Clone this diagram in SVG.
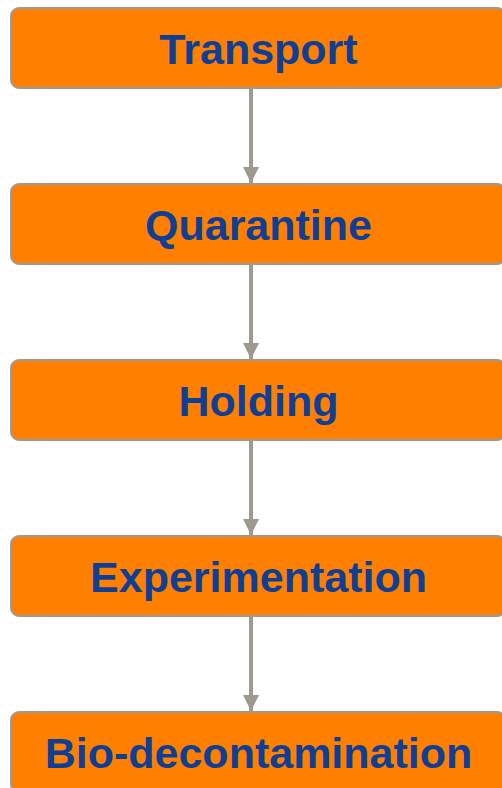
<svg xmlns="http://www.w3.org/2000/svg" width="502" height="788" viewBox="0 0 502 788">
<defs>
<style>
.box{fill:#ff7f00;stroke:#a09a8e;stroke-width:2}
.lbl{font-family:"Liberation Sans",Arial,sans-serif;font-weight:bold;font-size:43px;fill:#0e3f94;text-anchor:middle}
.conn{stroke:#a09a8e;stroke-width:4;fill:none}
</style>
<marker id="ah" markerWidth="4" markerHeight="4" refX="4" refY="2" orient="auto" markerUnits="strokeWidth">
<path d="M0,0 L4,2 L0,4 Z" fill="#a09a8e"/>
</marker>
</defs>
<g id="connectors">
<line class="conn" x1="251" y1="88" x2="251" y2="183" marker-end="url(#ah)"/>
<line class="conn" x1="251" y1="264" x2="251" y2="359" marker-end="url(#ah)"/>
<line class="conn" x1="251" y1="440" x2="251" y2="535" marker-end="url(#ah)"/>
<line class="conn" x1="251" y1="616" x2="251" y2="711" marker-end="url(#ah)"/>
</g>
<g id="transport"><rect class="box" x="11" y="8" width="494" height="80" rx="8"/><text class="lbl" x="258.5" y="63.5">Transport</text></g>
<g id="quarantine"><rect class="box" x="11" y="184" width="494" height="80" rx="8"/><text class="lbl" x="258.5" y="239.5">Quarantine</text></g>
<g id="holding"><rect class="box" x="11" y="360" width="494" height="80" rx="8"/><text class="lbl" x="258.5" y="415.5">Holding</text></g>
<g id="experimentation"><rect class="box" x="11" y="536" width="494" height="80" rx="8"/><text class="lbl" x="258.5" y="591.5">Experimentation</text></g>
<g id="bio-decontamination"><rect class="box" x="11" y="712" width="494" height="80" rx="8"/><text class="lbl" x="258.5" y="767.5">Bio-decontamination</text></g>
</svg>
